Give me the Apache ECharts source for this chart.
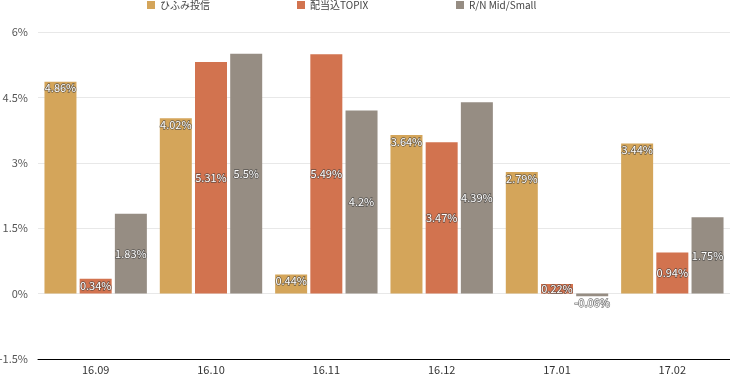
<!DOCTYPE html>
<html><head><meta charset="utf-8">
<script src="https://cdn.jsdelivr.net/npm/echarts@6/dist/echarts.min.js"></script>
<style>html,body{margin:0;padding:0;background:#fff}#c{width:730px;height:374px}</style>
</head><body><div id="c"></div>
<script>
var categories = ['16.09','16.10','16.11','16.12','17.01','17.02'];
var seriesNames = ['ひふみ投信','配当込TOPIX','R/N Mid/Small'];
var hifumi = [4.86, 4.02, 0.44, 3.64, 2.79, 3.44];
var topix = [0.34, 5.31, 5.49, 3.47, 0.22, 0.94];
var midSmall = [1.83, 5.5, 4.2, 4.39, -0.06, 1.75];
var colors = ['#D4A55A','#D2734F','#968D83'];
var FONT = '"Noto Sans CJK JP", sans-serif';

var labelBase = {
  show: true, color: '#fff', fontSize: 11, fontFamily: FONT,
  textBorderColor: 'rgba(60,60,60,0.7)', textBorderWidth: 1.3,
  formatter: function(p){ return p.value + '%'; }
};
function mkData(arr){
  return arr.map(function(v){
    if (v < 0) return {value: v, label: {position: 'bottom', distance: 1}};
    return v;
  });
}
var chart = echarts.init(document.getElementById('c'));
chart.setOption({
  animation: false,
  color: colors,
  textStyle: {fontFamily: FONT},
  legend: [0,1,2].map(function(i){
    return {
      data: [seriesNames[i]], top: 0, left: [147, 297, 456][i], padding: 0,
      itemWidth: 8, itemHeight: 8, icon: 'rect', itemGap: 5,
      textStyle: {fontSize: 10, color: '#444', fontFamily: FONT}
    };
  }),
  grid: {left: 38, right: 0, top: 32, bottom: 15, containLabel: false, outerBoundsMode: 'none'},
  xAxis: {
    type: 'category', data: categories,
    axisLine: {onZero: false, lineStyle: {color: '#000', width: 1}},
    axisTick: {show: false},
    axisLabel: {color: '#333', fontSize: 11, margin: 5, fontFamily: FONT}
  },
  yAxis: {
    type: 'value', min: -1.5, max: 6, interval: 1.5,
    axisLine: {show: false}, axisTick: {show: false},
    axisLabel: {color: '#555', fontSize: 11, margin: 10, fontFamily: FONT,
      formatter: function(v){ return v + '%'; }},
    splitLine: {lineStyle: {color: '#e8e8e8'}}
  },
  series: [
    {name: seriesNames[0], type: 'bar', data: mkData(hifumi), barWidth: 32, barGap: '10%',
     label: Object.assign({}, labelBase, {position: 'insideTop', distance: 1})},
    {name: seriesNames[1], type: 'bar', data: mkData(topix), barWidth: 32,
     label: Object.assign({}, labelBase, {position: 'inside'})},
    {name: seriesNames[2], type: 'bar', data: mkData(midSmall), barWidth: 32,
     label: Object.assign({}, labelBase, {position: 'inside'})}
  ]
});
</script></body></html>
